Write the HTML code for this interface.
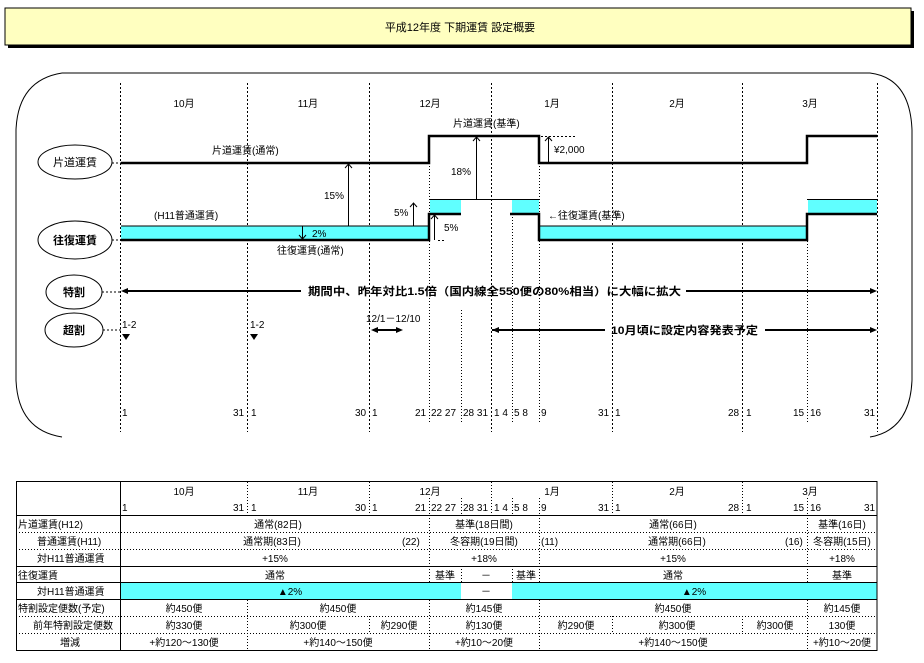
<!DOCTYPE html>
<html><head><meta charset="utf-8"><style>
html,body{margin:0;padding:0;background:#fff;}
svg{display:block;font-family:"Liberation Sans","Noto Sans CJK JP",sans-serif;}
text{font-size:10px;fill:#000;}
.b{font-weight:bold;font-size:11px;}
</style></head><body>
<svg width="924" height="663" viewBox="0 0 924 663" xmlns="http://www.w3.org/2000/svg">
<!-- title -->
<rect x="8" y="11" width="906" height="37" fill="#000"/>
<rect x="5" y="8" width="906" height="37" fill="#ffffc0" stroke="#000" stroke-width="1"/>
<text x="460" y="31" text-anchor="middle" style="font-size:11px">平成12年度 下期運賃 設定概要</text>
<!-- big rounded frame -->
<path d="M62,73 L870,73 Q910,78 912,130 L912,380 Q910,430 870,437 M62,73 Q18,80 16,130 L16,380 Q18,430 62,437" fill="none" stroke="#000" stroke-width="1"/>
<!-- vertical dashed -->
<g stroke="#000" stroke-width="1" stroke-dasharray="2,2">
<line x1="120.5" y1="83" x2="120.5" y2="432"/>
<line x1="247.5" y1="83" x2="247.5" y2="432"/>
<line x1="369.5" y1="83" x2="369.5" y2="432"/>
<line x1="491.5" y1="83" x2="491.5" y2="432"/>
<line x1="612.5" y1="83" x2="612.5" y2="432"/>
<line x1="742.5" y1="83" x2="742.5" y2="432"/>
<line x1="877.5" y1="83" x2="877.5" y2="432"/>
</g>
<g stroke="#000" stroke-width="1" stroke-dasharray="1,2">
<line x1="429.5" y1="163" x2="429.5" y2="422"/>
<line x1="461.5" y1="310" x2="461.5" y2="422"/>
<line x1="512.5" y1="214" x2="512.5" y2="422"/>
<line x1="539.5" y1="163" x2="539.5" y2="422"/>
<line x1="807.5" y1="214" x2="807.5" y2="422"/>
</g>
<!-- months -->
<g text-anchor="middle">
<text x="184" y="107">10月</text><text x="308" y="107">11月</text><text x="430" y="107">12月</text>
<text x="552" y="107">1月</text><text x="677" y="107">2月</text><text x="810" y="107">3月</text>
</g>
<!-- cyan bands -->
<g fill="#60ffff" stroke="none">
<rect x="121" y="226" width="308" height="14"/>
<rect x="430" y="200" width="31" height="14"/>
<rect x="512" y="200" width="27" height="14"/>
<rect x="540" y="226" width="267" height="14"/>
<rect x="808" y="200" width="69" height="14"/>
</g>
<g stroke="#000" stroke-width="1" fill="none">
<line x1="121" y1="226" x2="429" y2="226"/>
<line x1="429" y1="199.5" x2="539" y2="199.5"/>
<line x1="540" y1="226" x2="807" y2="226"/>
<line x1="807" y1="199.5" x2="877" y2="199.5"/>
</g>
<!-- thick lines -->
<g stroke="#000" stroke-width="2.5" fill="none">
<polyline points="121,163 429,163 429,136 539,136 539,163 807,163 807,136 877,136"/>
<polyline points="121,240 429,240 429,214 461,214"/>
<polyline points="510,214 539,214 539,240 807,240 807,214 877,214"/>
</g>
<!-- ellipses -->
<g fill="#fff" stroke="#000" stroke-width="1">
<ellipse cx="75" cy="162" rx="37" ry="17"/>
<ellipse cx="75" cy="240" rx="37" ry="19"/>
<ellipse cx="74" cy="292" rx="28" ry="17"/>
<ellipse cx="74" cy="330" rx="29" ry="17"/>
</g>
<g stroke="#000" stroke-dasharray="2,2">
<line x1="112" y1="163" x2="121" y2="163"/>
<line x1="112" y1="240" x2="121" y2="240"/>
<line x1="102" y1="292" x2="121" y2="292"/>
<line x1="103" y1="330" x2="121" y2="330"/>
</g>
<text x="75" y="166" text-anchor="middle" style="font-size:11px">片道運賃</text>
<text x="75" y="244" text-anchor="middle" class="b">往復運賃</text>
<text x="74" y="296" text-anchor="middle" class="b">特割</text>
<text x="74" y="334" text-anchor="middle" class="b">超割</text>
<!-- annotations -->
<g stroke="#000" stroke-width="1" fill="none">
<line x1="348.5" y1="226" x2="348.5" y2="164"/><polyline points="345,168 348.5,164 352,168"/>
<line x1="413.5" y1="226" x2="413.5" y2="203"/><polyline points="410,207 413.5,203 417,207"/>
<line x1="434.5" y1="240" x2="434.5" y2="215"/><polyline points="431,219 434.5,215 438,219"/>
<line x1="476.5" y1="199" x2="476.5" y2="137"/><polyline points="473,141 476.5,137 480,141"/>
<line x1="548.5" y1="163" x2="548.5" y2="137"/><polyline points="545,141 548.5,137 552,141"/>
<line x1="302.5" y1="226" x2="302.5" y2="239"/><polyline points="299,235 302.5,239 306,235"/>
<line x1="438" y1="240.5" x2="446" y2="240.5" stroke-dasharray="2,2"/>
<line x1="541" y1="136.5" x2="575" y2="136.5" stroke-dasharray="2,2"/>
</g>
<text x="324" y="199">15%</text>
<text x="394" y="216">5%</text>
<text x="444" y="231">5%</text>
<text x="451" y="175">18%</text>
<text x="554" y="153">¥2,000</text>
<text x="312" y="237">2%</text>
<text x="212" y="154">片道運賃(通常)</text>
<text x="453" y="127">片道運賃(基準)</text>
<text x="154" y="219">(H11普通運賃)</text>
<text x="277" y="254">往復運賃(通常)</text>
<text x="548" y="219">←往復運賃(基準)</text>
<!-- 特割 arrow -->
<g stroke="#000" stroke-width="2" fill="#000">
<line x1="125" y1="291" x2="301" y2="291"/>
<line x1="686" y1="291" x2="872" y2="291"/>
<line x1="492" y1="330" x2="605" y2="330"/>
<line x1="765" y1="330" x2="872" y2="330"/>
<line x1="375" y1="330" x2="399" y2="330"/>
</g>
<g fill="#000">
<polygon points="121,291 128,288 128,294"/>
<polygon points="877,291 870,288 870,294"/>
<polygon points="492,330 499,327 499,333"/>
<polygon points="877,330 870,327 870,333"/>
<polygon points="371,330 378,327 378,333"/>
<polygon points="403,330 396,327 396,333"/>
<polygon points="122,334 130,334 126,340"/>
<polygon points="250,334 258,334 254,340"/>
</g>
<text x="308" y="295" class="b" textLength="373" lengthAdjust="spacingAndGlyphs">期間中、昨年対比1.5倍（国内線全550便の80%相当）に大幅に拡大</text>
<text x="611" y="334" class="b" textLength="147" lengthAdjust="spacingAndGlyphs">10月頃に設定内容発表予定</text>
<text x="122" y="328">1-2</text>
<text x="250" y="328">1-2</text>
<text x="366" y="322">12/1－12/10</text>
<!-- day labels -->
<g>
<text x="122" y="416">1</text><text x="233" y="416">31</text><text x="251" y="416">1</text>
<text x="355" y="416">30</text><text x="372" y="416">1</text><text x="415" y="416">21</text>
<text x="431" y="416">22 27</text><text x="463" y="416">28 31</text><text x="494" y="416">1  4</text>
<text x="514" y="416">5  8</text><text x="541" y="416">9</text><text x="598" y="416">31</text>
<text x="615" y="416">1</text><text x="728" y="416">28</text><text x="746" y="416">1</text>
<text x="793" y="416">15</text><text x="810" y="416">16</text><text x="864" y="416">31</text>
</g>

<!-- TABLE -->
<rect x="121" y="583" width="340" height="16" fill="#60ffff"/>
<rect x="512" y="583" width="365" height="16" fill="#60ffff"/>
<g stroke="#000" stroke-width="1" fill="none">
<rect x="16.5" y="481.5" width="860.5" height="169"/>
<line x1="120.5" y1="481" x2="120.5" y2="651"/>
<line x1="16" y1="515.5" x2="877" y2="515.5"/>
<line x1="16" y1="566.5" x2="877" y2="566.5"/>
<line x1="16" y1="582.5" x2="877" y2="582.5"/>
<line x1="16" y1="599.5" x2="877" y2="599.5"/>
</g>
<g stroke="#000" stroke-width="1" stroke-dasharray="1,2" fill="none">
<line x1="16" y1="532.5" x2="877" y2="532.5"/>
<line x1="16" y1="549.5" x2="877" y2="549.5"/>
<line x1="16" y1="616.5" x2="877" y2="616.5"/>
<line x1="16" y1="633.5" x2="877" y2="633.5"/>
<line x1="247.5" y1="482" x2="247.5" y2="515"/><line x1="369.5" y1="482" x2="369.5" y2="515"/>
<line x1="491.5" y1="482" x2="491.5" y2="515"/><line x1="612.5" y1="482" x2="612.5" y2="515"/>
<line x1="742.5" y1="482" x2="742.5" y2="515"/>
<line x1="429.5" y1="498" x2="429.5" y2="515"/><line x1="461.5" y1="498" x2="461.5" y2="515"/>
<line x1="512.5" y1="498" x2="512.5" y2="515"/><line x1="539.5" y1="498" x2="539.5" y2="515"/>
<line x1="807.5" y1="498" x2="807.5" y2="515"/>
<line x1="429.5" y1="515" x2="429.5" y2="583"/><line x1="539.5" y1="515" x2="539.5" y2="583"/>
<line x1="807.5" y1="515" x2="807.5" y2="583"/>
<line x1="461.5" y1="566" x2="461.5" y2="583"/><line x1="512.5" y1="566" x2="512.5" y2="583"/>
<line x1="247.5" y1="600" x2="247.5" y2="651"/><line x1="429.5" y1="600" x2="429.5" y2="651"/>
<line x1="539.5" y1="600" x2="539.5" y2="651"/><line x1="807.5" y1="600" x2="807.5" y2="651"/>
<line x1="369.5" y1="616" x2="369.5" y2="633"/><line x1="612.5" y1="616" x2="612.5" y2="633"/>
<line x1="742.5" y1="616" x2="742.5" y2="633"/>
</g>
<g text-anchor="middle">
<text x="184" y="495">10月</text><text x="308" y="495">11月</text><text x="430" y="495">12月</text>
<text x="552" y="495">1月</text><text x="677" y="495">2月</text><text x="810" y="495">3月</text>
</g>
<g>
<text x="122" y="511">1</text><text x="233" y="511">31</text><text x="251" y="511">1</text>
<text x="355" y="511">30</text><text x="372" y="511">1</text><text x="415" y="511">21</text>
<text x="431" y="511">22 27</text><text x="463" y="511">28 31</text><text x="494" y="511">1  4</text>
<text x="514" y="511">5  8</text><text x="541" y="511">9</text><text x="598" y="511">31</text>
<text x="615" y="511">1</text><text x="728" y="511">28</text><text x="746" y="511">1</text>
<text x="793" y="511">15</text><text x="810" y="511">16</text><text x="864" y="511">31</text>
</g>
<g>
<text x="18" y="528">片道運賃(H12)</text>
<text x="37" y="545">普通運賃(H11)</text>
<text x="37" y="562">対H11普通運賃</text>
<text x="18" y="579">往復運賃</text>
<text x="37" y="595">対H11普通運賃</text>
<text x="18" y="612">特割設定便数(予定)</text>
<text x="33" y="629">前年特割設定便数</text>
<text x="60" y="646">増減</text>
<text x="402" y="545">(22)</text>
<text x="541" y="545">(11)</text>
<text x="785" y="545">(16)</text>
</g>
<g text-anchor="middle">
<text x="278" y="528">通常(82日)</text><text x="484" y="528">基準(18日間)</text><text x="673" y="528">通常(66日)</text><text x="842" y="528">基準(16日)</text>
<text x="272" y="545">通常期(83日)</text><text x="484" y="545">冬容期(19日間)</text><text x="677" y="545">通常期(66日)</text><text x="842" y="545">冬容期(15日)</text>
<text x="275" y="562">+15%</text><text x="484" y="562">+18%</text><text x="673" y="562">+15%</text><text x="842" y="562">+18%</text>
<text x="275" y="579">通常</text><text x="445" y="579">基準</text><text x="486" y="579">－</text><text x="526" y="579">基準</text><text x="673" y="579">通常</text><text x="842" y="579">基準</text>
<text x="290" y="595">▲2%</text><text x="486" y="595">－</text><text x="694" y="595">▲2%</text>
<text x="184" y="612">約450便</text><text x="338" y="612">約450便</text><text x="484" y="612">約145便</text><text x="673" y="612">約450便</text><text x="842" y="612">約145便</text>
<text x="184" y="629">約330便</text><text x="308" y="629">約300便</text><text x="399" y="629">約290便</text><text x="484" y="629">約130便</text><text x="576" y="629">約290便</text><text x="677" y="629">約300便</text><text x="775" y="629">約300便</text><text x="842" y="629">130便</text>
<text x="184" y="646">+約120～130便</text><text x="338" y="646">+約140～150便</text><text x="484" y="646">+約10～20便</text><text x="673" y="646">+約140～150便</text><text x="842" y="646">+約10～20便</text>
</g>
</svg>
</body></html>
